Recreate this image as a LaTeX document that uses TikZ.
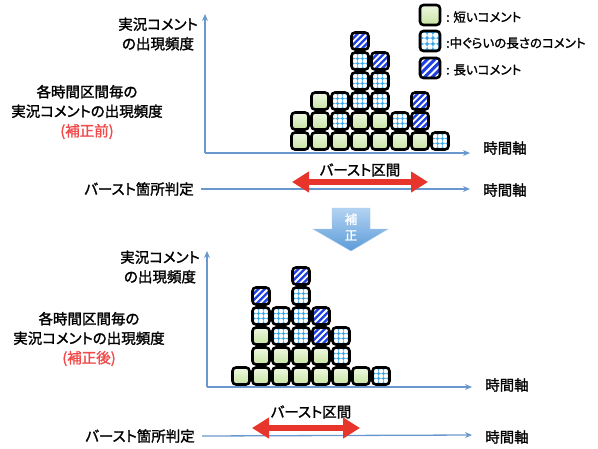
\documentclass[tikz,border=0pt]{standalone}
\usepackage{fontspec}
\setmainfont{Noto Sans CJK JP}[RawFeature={+palt;embolden=1.6}]
\usetikzlibrary{arrows.meta}
\definecolor{gtop}{HTML}{EEF8E2}
\definecolor{gbot}{HTML}{C8E4A2}
\definecolor{mblue}{HTML}{3AA6EA}
\definecolor{lblue}{HTML}{1F40E0}
\definecolor{axisc}{HTML}{6B98CC}
\definecolor{burst}{HTML}{E8352B}
\definecolor{redtxt}{HTML}{F04A4A}
\definecolor{ctop}{HTML}{B3D3F2}
\definecolor{cbot}{HTML}{5C9BD8}
\tikzset{
  cellline/.style={draw=black,line width=2.6pt,rounded corners=3.5pt},
  axisline/.style={draw=axisc,line width=1.3pt,-{Stealth[length=7pt,width=6pt]}},
  lbl/.style={font=\fontsize{14.5}{19.5}\selectfont,inner sep=0pt,align=center},
  legtxt/.style={font=\fontsize{12.5}{15}\selectfont,inner sep=0pt,anchor=west},
  burstarrow/.style={draw=burst,line width=6pt,{Triangle[length=17pt,width=20pt]}-{Triangle[length=17pt,width=20pt]}},
}
% cells: center (x,y) in px, half size
\newcommand\gcell[3][8.5]{%
  \pgfmathsetmacro\cx{#2}\pgfmathsetmacro\cy{#3}\pgfmathsetmacro\hs{#1}%
  \fill[top color=gtop,bottom color=gbot,rounded corners=3pt] ({\cx-\hs},{\cy-\hs}) rectangle ({\cx+\hs},{\cy+\hs});
  \draw[cellline] ({\cx-\hs},{\cy-\hs}) rectangle ({\cx+\hs},{\cy+\hs});}
\newcommand\mcell[3][8.5]{%
  \pgfmathsetmacro\cx{#2}\pgfmathsetmacro\cy{#3}\pgfmathsetmacro\hs{#1}%
  \begin{scope}
    \clip[rounded corners=3pt] ({\cx-\hs},{\cy-\hs}) rectangle ({\cx+\hs},{\cy+\hs});
    \fill[mblue] ({\cx-\hs},{\cy-\hs}) rectangle ({\cx+\hs},{\cy+\hs});
    \foreach \a in {-1,0,1}{\foreach \b in {-1,0,1}{%
      \fill[white] ({\cx+\a*\hs*0.58},{\cy+\b*\hs*0.58}) circle ({\hs*0.27});}}
  \end{scope}
  \draw[cellline] ({\cx-\hs},{\cy-\hs}) rectangle ({\cx+\hs},{\cy+\hs});}
\newcommand\lcell[3][8.5]{%
  \pgfmathsetmacro\cx{#2}\pgfmathsetmacro\cy{#3}\pgfmathsetmacro\hs{#1}%
  \begin{scope}
    \clip[rounded corners=3pt] ({\cx-\hs},{\cy-\hs}) rectangle ({\cx+\hs},{\cy+\hs});
    \fill[lblue] ({\cx-\hs},{\cy-\hs}) rectangle ({\cx+\hs},{\cy+\hs});
    \foreach \k in {-3,...,3}{%
      \draw[white,line width=1.8pt] ({\cx+\k*\hs*0.75-\hs-2},{\cy+\hs+2}) -- ({\cx+\k*\hs*0.75+\hs+2},{\cy-\hs-2});}
  \end{scope}
  \draw[cellline] ({\cx-\hs},{\cy-\hs}) rectangle ({\cx+\hs},{\cy+\hs});}
\begin{document}
\begin{tikzpicture}[x=1pt,y=-1pt]
\useasboundingbox (0,0) rectangle (598,448);
% ---------- top chart ----------
\coordinate (tO) at (205,153);
\coordinate (tY) at (205,14);
\coordinate (tX) at (470,153);
\draw[axisline] (tO) -- (tY);
\draw[axisline] (tO) -- (tX);
% row 1
\foreach \c in {1,...,7}{\gcell{300+20*(\c-1)}{141}}
\mcell{440}{141}
% row 2
\gcell{300}{121}\gcell{320}{121}\mcell{340}{121}\gcell{360}{121}\gcell{380}{121}\mcell{400}{121}\lcell{420}{121}
% row 3
\gcell{320}{101}\mcell{340}{101}\mcell{360}{101}\mcell{380}{101}\lcell{420}{101}
% row 4
\mcell{360}{81}\mcell{380}{81}
% row 5
\mcell{360}{61}\lcell{380}{61}
% row 6
\lcell{360}{41}
\node[lbl] (tylab) at (158,34) {実況コメント\\の出現頻度};
\node[lbl] (tdesc) at (87,112) {各時間区間毎の\\実況コメントの出現頻度\\\textcolor{redtxt}{(補正前)}};
\node[lbl,anchor=west] (txlab) at (483,148) {時間軸};
% legend
\gcell[10]{430}{15}
\mcell[10]{430}{41}
\lcell[10]{430}{68}
\node[legtxt] (leg1) at (446,17) {: 短いコメント};
\node[legtxt] (leg2) at (446,43) {:中ぐらいの長さのコメント};
\node[legtxt] (leg3) at (446,70) {: 長いコメント};
% burst line top
\node[lbl,anchor=east] (tbl) at (194,189) {バースト箇所判定};
\coordinate (tbe) at (470,189);
\draw[axisline] (tbl.east) ++(7,0) -- (tbe);
\node[lbl,anchor=west] (tbx) at (483,190) {時間軸};
\coordinate (tra) at (292,182);
\coordinate (trb) at (428,182);
\draw[burstarrow] (tra) -- (trb);
\node[lbl] (tbur) at (360,170) {バースト区間};
% ---------- correction arrow ----------
\shade[top color=ctop,bottom color=cbot,draw=ctop!80!cbot,line width=0.4pt]
  (332,208) -- (370,208) -- (370,229) -- (388,229) -- (351,251) -- (313,229) -- (332,229) -- cycle;
\node[font=\fontsize{12.5}{16}\selectfont,text=white,inner sep=0pt,align=center] (corr) at (351,227) {補\\正};
% ---------- bottom chart ----------
\coordinate (bO) at (207,387);
\coordinate (bY) at (207,251);
\coordinate (bX) at (472,387);
\draw[axisline] (bO) -- (bY);
\draw[axisline] (bO) -- (bX);
% row 1
\foreach \c in {1,...,7}{\gcell{241+20*(\c-1)}{376}}
\mcell{381}{376}
% row 2
\gcell{261}{356}\gcell{281}{356}\gcell{301}{356}\gcell{321}{356}\mcell{341}{356}
% row 3
\gcell{261}{336}\mcell{281}{336}\mcell{301}{336}\lcell{321}{336}\mcell{341}{336}
% row 4
\mcell{261}{316}\mcell{281}{316}\mcell{301}{316}\lcell{321}{316}
% row 5
\lcell{261}{296}\mcell{301}{296}
% row 6
\lcell{301}{276}
\node[lbl] (bylab) at (160,267) {実況コメント\\の出現頻度};
\node[lbl] (bdesc) at (89,339) {各時間区間毎の\\実況コメントの出現頻度\\\textcolor{redtxt}{(補正後)}};
\node[lbl,anchor=west] (bxlab) at (485,385) {時間軸};
\node[lbl,anchor=east] (bbl) at (195,436) {バースト箇所判定};
\coordinate (bbe) at (472,435);
\draw[axisline] (bbl.east) ++(7,0) -- (bbe);
\node[lbl,anchor=west] (bbx) at (485,437) {時間軸};
\coordinate (bra) at (252,428);
\coordinate (brb) at (360,428);
\draw[burstarrow] (bra) -- (brb);
\node[lbl] (bbur) at (311,412) {バースト区間};
\end{tikzpicture}
\end{document}
